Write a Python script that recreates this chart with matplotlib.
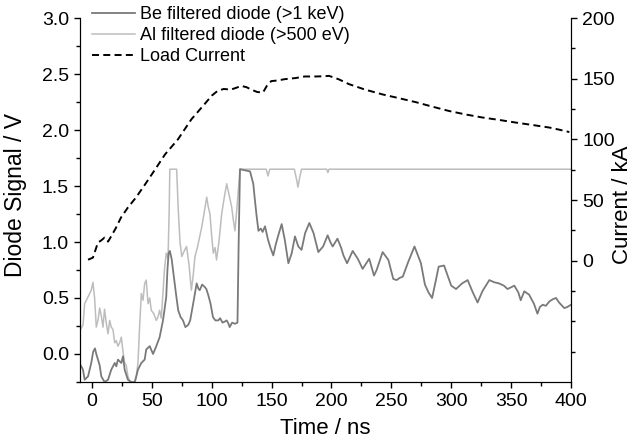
import matplotlib
matplotlib.use("Agg")
import matplotlib.pyplot as plt
from matplotlib.ticker import MultipleLocator, FixedLocator, FuncFormatter

plt.rcParams['font.family'] = ['Liberation Sans', 'DejaVu Sans']

# Al filtered diode (>500 eV)
al_t = [-9.5, -7.5, -6.1, -3.3, -0.6, 0.8, 2.2, 3.6, 5, 6.4, 7.8, 9.2, 10.5, 11.9, 13.4, 14.8,
        16.1, 17.5, 19, 20.3, 21.7, 23.1, 24.5, 25.9, 27.3, 28.6, 30, 31.4, 32.8, 35.7, 37, 38.4,
        39.8, 41.2, 42.6, 44, 45.3, 46.8, 48.2, 49.5, 51.6, 53.7, 55.1, 56.5, 57.9, 59.3, 60.5, 62,
        63.5, 64.5, 65, 70.7, 72, 73.5, 75, 77, 79, 81, 83, 84.5, 86, 88, 90, 91.6, 93.5, 95.8, 97,
        98.5, 100, 101.3, 102.8, 104, 106, 108.3, 110.5, 112.5, 114.5, 116.7, 118, 119.4, 121,
        122.5, 123.6, 145.5, 147, 148.5, 169, 171, 172, 173.5, 175, 196, 197, 198, 400]
al_v = [0.22, 0.26, 0.45, 0.51, 0.57, 0.64, 0.50, 0.24, 0.30, 0.41, 0.34, 0.24, 0.40, 0.28, 0.18, 0.30,
        0.24, 0.22, 0.10, 0.12, 0.07, 0.10, 0.15, 0.02, -0.08, -0.10, -0.20, -0.24, -0.26, -0.26, -0.20, -0.08,
        0.25, 0.54, 0.48, 0.63, 0.66, 0.45, 0.50, 0.39, 0.36, 0.30, 0.33, 0.39, 0.32, 0.55, 0.75, 0.90,
        0.85, 1.30, 1.65, 1.65, 1.30, 1.00, 0.87, 0.92, 0.96, 0.80, 0.57, 0.70, 0.87, 0.95, 1.05, 1.13, 1.25, 1.40, 1.32,
        1.25, 1.05, 0.90, 0.95, 0.84, 1.00, 1.25, 1.40, 1.52, 1.42, 1.31, 1.20, 1.10, 1.30,
        1.50, 1.65, 1.65, 1.59, 1.65, 1.65, 1.55, 1.49, 1.58, 1.65, 1.65, 1.62, 1.65, 1.65]

# Be filtered diode (>1 keV)
be_t = [-9.5, -7.5, -6.1, -3.3, -0.6, 1, 2.5, 3.6, 5, 6.4, 7.8, 10.5, 13.4, 16.1, 19, 20.3, 21.7, 24.5,
        25.9, 27.3, 30, 32.8, 35.7, 37, 38.4, 41.2, 44, 45.3, 48.2, 51, 53.7, 56.5, 59.3, 60.5, 62, 63, 64,
        65, 66.5, 68, 70, 72, 74, 76, 78, 80.4, 82, 83, 85, 87.4, 89, 90, 92, 94, 95.5, 97, 99, 101, 103,
        105.5, 107, 109, 111, 112.5, 114, 115, 117, 119.4, 121.5, 122.5, 123.6, 132, 134.7, 136, 137.5,
        139, 141, 142.5, 144.5, 147, 149, 151.4, 153.5, 155.6, 158.4, 161, 164, 166.8, 169.5, 172.3, 175,
        178, 181.5, 185, 189, 193, 196.8, 199, 201, 205, 208, 210, 213, 217.7, 222, 226, 231.5, 235.5,
        237.7, 242.7, 247.5, 251.6, 254.4, 257, 259.5, 264, 269.3, 274.7, 278, 281, 284, 287, 289.5, 294,
        297, 300, 304, 309, 313.7, 318, 322, 326, 331.8, 336, 340, 344, 347, 352.7, 356, 358, 361, 365,
        369, 372, 374, 376.4, 379, 382, 385, 387.5, 390, 394.4, 397, 400]
be_v = [-0.10, -0.14, -0.23, -0.20, -0.08, 0.02, 0.05, 0.00, -0.05, -0.10, -0.20, -0.25, -0.23, -0.14, -0.08, -0.11, -0.05, -0.08,
        -0.02, -0.14, -0.23, -0.25, -0.25, -0.20, -0.14, -0.08, -0.05, 0.04, 0.07, 0.00, 0.07, 0.15, 0.30, 0.39, 0.51, 0.75, 0.90,
        0.92, 0.85, 0.72, 0.55, 0.39, 0.33, 0.30, 0.24, 0.26, 0.30, 0.36, 0.48, 0.63, 0.58, 0.57, 0.62, 0.60, 0.58, 0.53, 0.45, 0.33, 0.30,
        0.30, 0.32, 0.28, 0.29, 0.30, 0.27, 0.24, 0.28, 0.27, 0.28, 1.00, 1.65, 1.63, 1.52, 1.38, 1.23,
        1.10, 1.12, 1.09, 1.14, 1.02, 0.95, 0.88, 0.98, 1.06, 1.16, 1.02, 0.81, 0.90, 1.05, 0.96, 0.93,
        1.08, 1.17, 1.08, 0.91, 0.96, 1.06, 1.00, 0.96, 1.03, 0.95, 0.88, 0.81, 0.92, 0.85, 0.76, 0.85, 0.70,
        0.75, 0.91, 0.84, 0.67, 0.66, 0.68, 0.69, 0.82, 0.96, 0.81, 0.62, 0.55, 0.50, 0.65, 0.78, 0.79,
        0.70, 0.61, 0.58, 0.63, 0.66, 0.55, 0.46, 0.56, 0.66, 0.64, 0.63, 0.61, 0.58, 0.61, 0.55, 0.48, 0.56, 0.53,
        0.45, 0.36, 0.42, 0.44, 0.43, 0.47, 0.49, 0.50, 0.46, 0.41, 0.42, 0.44]

# Load current (kA)
cur_t = [-3.3, 0.8, 5, 7.5, 10.5, 13.4, 15.9, 20, 24.2, 30, 36.7, 44.3, 52.6, 61, 71.8, 83, 94, 100,
         105, 110, 116, 120.5, 124.7, 129, 133, 138, 142.8, 146, 149.7, 155, 161, 170, 177.6, 187, 194,
         198, 206, 214.6, 228, 242.7, 256, 270.6, 284, 298, 312, 326, 340, 354, 368, 382, 390, 398.6]
cur_i = [0.8, 2.5, 15, 16.5, 19, 15.7, 19.8, 27, 35.5, 43.8, 52, 62.8, 75, 87.6, 100, 116.5, 129, 136,
         140, 141.5, 141, 142.5, 144, 143, 141, 139, 138.6, 144, 148, 148.5, 149.6, 150.5, 151.8, 151.8, 152,
         152.3, 149.5, 145.5, 141, 137, 134, 130.6, 127, 123.4, 120.5, 118, 116, 113.8, 111.8, 109.7, 108, 106]

fig = plt.figure(figsize=(6.36, 4.42), dpi=100)
ax = fig.add_axes([80/636, 1-382/442, (571-80)/636, (382-18)/442])
ax2 = ax.twinx()

l_al, = ax.plot(al_t, al_v, color='#bdbdbd', lw=1.1)
l_be, = ax.plot(be_t, be_v, color='#7a7a7a', lw=1.3)
l_cur, = ax2.plot(cur_t, cur_i, color='black', lw=1.4, ls=(0, (3.6, 2.2)))

ax.set_xlim(-10, 400)
ax.set_ylim(-0.25, 3.0)
ax2.set_ylim(-100, 200)

for a in (ax, ax2):
    a.spines['top'].set_visible(False)
    a.tick_params(which='major', length=4, width=1, labelsize=14, direction='out', pad=4)
    a.tick_params(which='minor', length=3, width=1, direction='out')

ax.xaxis.set_major_locator(MultipleLocator(50))
ax.xaxis.set_minor_locator(MultipleLocator(25))
ax.yaxis.set_major_locator(FixedLocator([0.0, 0.5, 1.0, 1.5, 2.0, 2.5, 3.0]))
ax.yaxis.set_minor_locator(MultipleLocator(0.25))
ax.yaxis.set_major_formatter(FuncFormatter(lambda v, p: f"{v:.1f}"))
ax2.yaxis.set_major_locator(FixedLocator([0, 50, 100, 150, 200]))
ax2.yaxis.set_minor_locator(FixedLocator([-75, -50, -25, 25, 75, 125, 175]))

ax.set_xlabel('Time / ns', fontsize=16)
ax.set_ylabel('Diode Signal / V', fontsize=16.5)
ax2.set_ylabel('Current / kA', fontsize=16)
ax.xaxis.set_label_coords(0.499, -0.100)
ax.yaxis.set_label_coords(-0.108, 0.514)
ax2.yaxis.set_label_coords(1.084, 0.486)

leg = fig.legend([l_be, l_al, l_cur],
                 ['Be filtered diode (>1 keV)', 'Al filtered diode (>500 eV)', 'Load Current'],
                 loc='upper left', bbox_to_anchor=(92/636, 1 - 6/442), frameon=False,
                 fontsize=13, handlelength=2.4, handletextpad=0.25, labelspacing=0.22,
                 borderaxespad=0, borderpad=0)

fig.savefig('out.png', dpi=100)
